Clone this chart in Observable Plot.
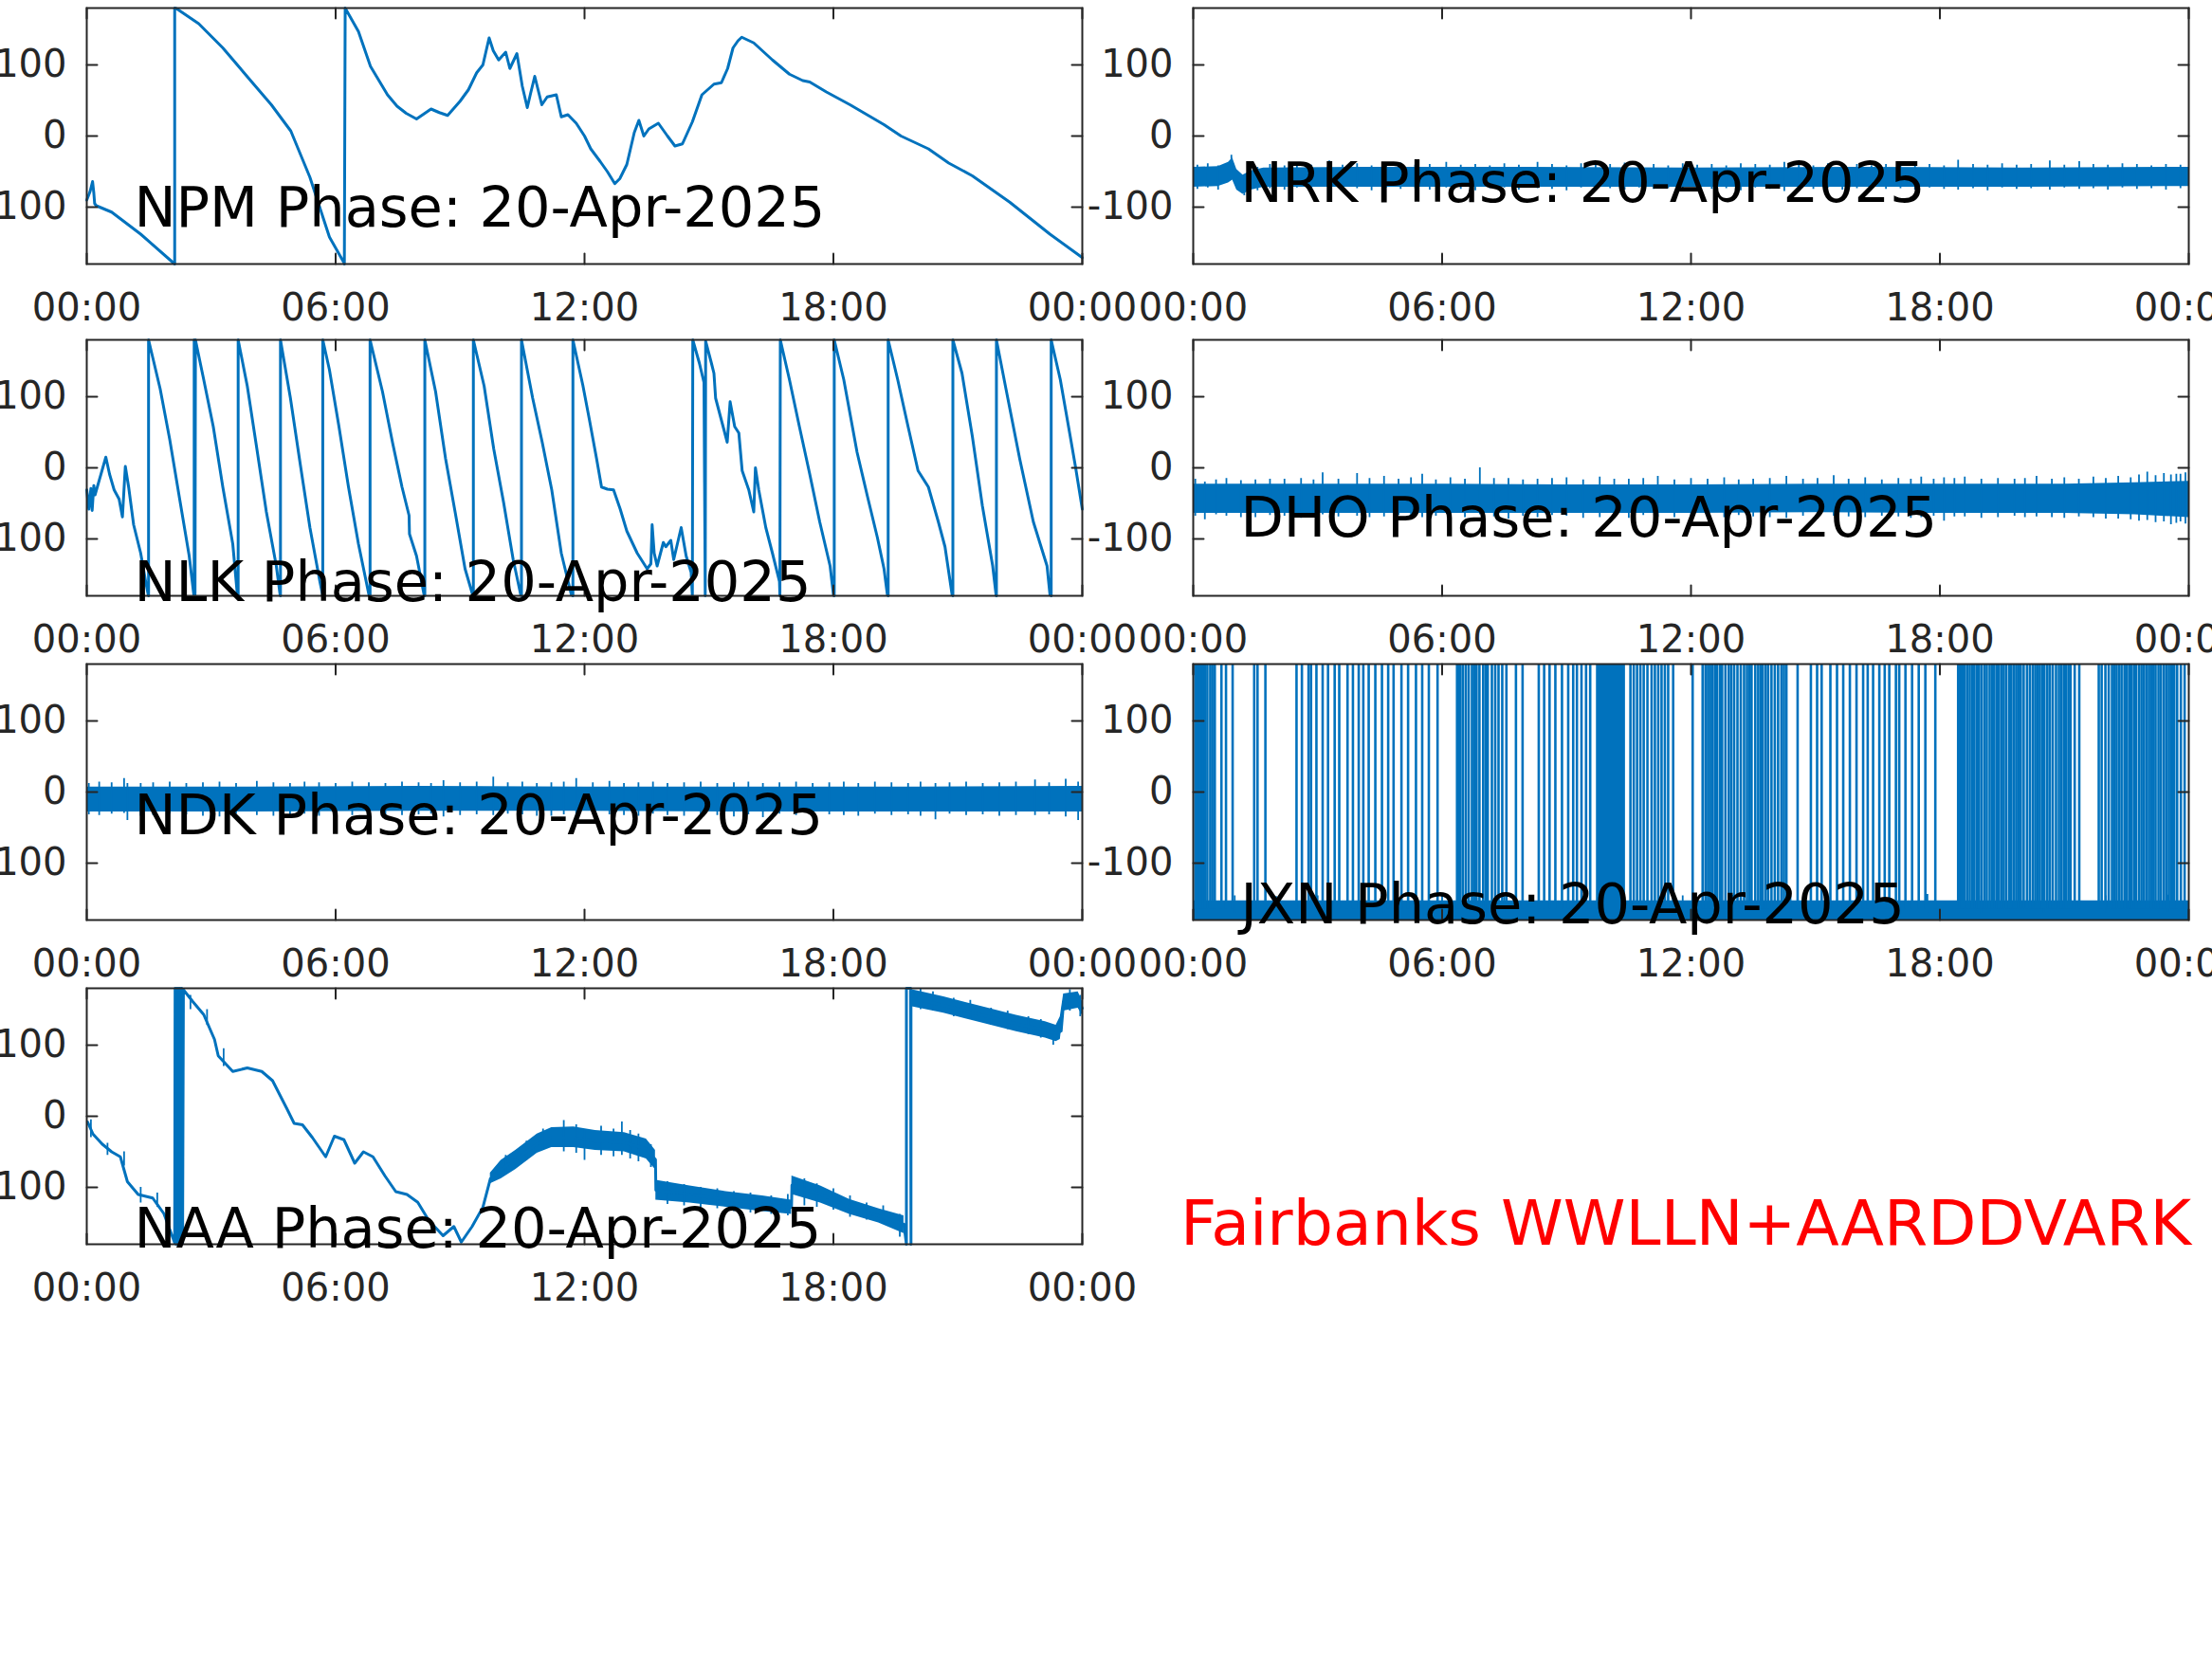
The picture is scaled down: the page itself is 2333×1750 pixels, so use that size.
<!DOCTYPE html>
<html><head><meta charset="utf-8">
<script src="https://cdn.jsdelivr.net/npm/d3@7"></script>
<script src="https://cdn.jsdelivr.net/npm/@observablehq/plot@0.6"></script>
<style>
html,body{margin:0;padding:0;background:#fff;}
#page{position:relative;width:2333px;height:1750px;overflow:hidden;background:#fff;font-family:"DejaVu Sans";}
.panel{position:absolute;}
</style></head><body><div id="page"></div>
<script>
// ---------- data ----------
const dateLabel = "20-Apr-2025";
const stations = ["NPM", "NRK", "NLK", "DHO", "NDK", "JXN", "NAA"];
const labelYs = [-127, -93, -187, -96, -59, -184, -184]; // baseline of each panel label (phase units)
const labelHour = 1.14;
const xTickHours = [0, 6, 12, 18, 24];
const xTickLabels = ["00:00", "06:00", "12:00", "18:00", "00:00"];
const yTickValues = [-100, 0, 100];
const yTickLabels = ["-100", "0", "100"];
const footerText = "Fairbanks WWLLN+AARDDVARK";

// [hour, phase]
const npmLine = [[0,-90],[0.08,-78],[0.14,-64],[0.17,-80],[0.19,-95],[0.23,-98],[0.6,-107],[1.3,-138],[2.12,-180],[2.12,180],[2.17,179],[2.7,158],[3.28,124],[3.98,76],[4.45,44],[4.92,7],[5.38,-58],[5.85,-142],[6.2,-178],[6.21,-180],[6.23,180],[6.55,147],[6.84,98],[7.25,58],[7.48,42],[7.7,32],[7.95,24],[8.1,30],[8.3,38],[8.5,33],[8.7,29],[9.0,49],[9.2,65],[9.4,89],[9.55,100],[9.7,138],[9.8,120],[9.93,107],[10.1,118],[10.2,95],[10.37,116],[10.5,70],[10.62,40],[10.7,60],[10.8,84],[10.97,44],[11.1,55],[11.32,58],[11.44,27],[11.6,30],[11.8,18],[12.0,0],[12.15,-18],[12.38,-36],[12.55,-50],[12.73,-67],[12.85,-60],[13.02,-40],[13.2,5],[13.31,22],[13.43,0],[13.55,10],[13.78,18],[14.0,0],[14.18,-14],[14.36,-11],[14.6,20],[14.83,58],[15.12,73],[15.3,75],[15.45,95],[15.58,124],[15.7,134],[15.79,139],[16.08,131],[16.53,107],[16.94,87],[17.26,78],[17.43,76],[17.83,62],[18.4,44],[19.22,16],[19.63,0],[20.29,-18],[20.78,-38],[21.35,-56],[22.25,-93],[23.22,-138],[24,-171]];

const nlkLine = [[0,-31],[0.05,-58],[0.1,-29],[0.13,-60],[0.17,-25],[0.2,-38],[0.46,15],[0.55,-9],[0.66,-31],[0.78,-44],[0.86,-69],[0.93,2],[1.01,-27],[1.13,-80],[1.3,-120],[1.42,-160],[1.48,-178],[1.49,-180],[1.49,180],[1.77,111],[2.0,40],[2.24,-44],[2.47,-124],[2.58,-178],[2.59,-180],[2.59,180],[2.6,172],[2.61,-180],[2.62,180],[2.82,124],[3.05,58],[3.28,-27],[3.52,-107],[3.63,-178],[3.65,-180],[3.65,180],[3.87,115],[4.1,27],[4.33,-62],[4.57,-138],[4.66,-178],[4.67,-180],[4.67,180],[4.91,98],[5.15,4],[5.38,-84],[5.62,-160],[5.69,-180],[5.69,180],[5.85,138],[6.08,58],[6.31,-27],[6.55,-107],[6.8,-178],[6.83,-180],[6.83,180],[7.13,107],[7.37,36],[7.6,-27],[7.77,-67],[7.78,-93],[7.95,-124],[8.13,-178],[8.15,-180],[8.15,180],[8.41,107],[8.65,13],[8.88,-62],[9.12,-142],[9.3,-178],[9.32,-180],[9.32,180],[9.58,115],[9.81,27],[10.05,-49],[10.28,-129],[10.46,-178],[10.48,-180],[10.48,180],[10.75,98],[10.98,36],[11.21,-31],[11.44,-120],[11.68,-178],[11.72,-180],[11.72,180],[11.96,116],[12.12,67],[12.29,13],[12.41,-27],[12.55,-30],[12.7,-31],[12.86,-58],[13.02,-89],[13.27,-120],[13.51,-142],[13.6,-135],[13.63,-80],[13.68,-120],[13.75,-138],[13.9,-105],[13.96,-111],[14.08,-102],[14.15,-129],[14.33,-84],[14.45,-124],[14.57,-147],[14.6,-180],[14.61,180],[14.77,147],[14.88,120],[14.91,-180],[14.92,178],[15.06,147],[15.12,133],[15.16,98],[15.3,67],[15.44,36],[15.51,93],[15.62,58],[15.72,49],[15.8,-4],[15.96,-31],[16.08,-62],[16.12,0],[16.2,-31],[16.37,-84],[16.53,-120],[16.7,-160],[16.71,-180],[16.72,180],[16.94,124],[17.18,58],[17.43,-9],[17.67,-76],[17.92,-138],[18.0,-178],[18.02,-180],[18.02,180],[18.25,124],[18.57,22],[18.82,-40],[19.06,-98],[19.22,-142],[19.3,-178],[19.32,-180],[19.32,180],[19.55,124],[19.8,58],[20.04,-4],[20.29,-27],[20.53,-76],[20.69,-111],[20.86,-178],[20.88,-180],[20.88,180],[21.1,133],[21.35,44],[21.59,-53],[21.84,-138],[21.92,-178],[21.93,-180],[21.93,180],[22.16,111],[22.49,13],[22.82,-76],[23.15,-138],[23.22,-178],[23.25,-180],[23.25,180],[23.47,124],[23.71,44],[23.84,0],[24,-58]];

const naaLine = [[0.02,-8],[0.15,-25],[0.37,-39],[0.6,-50],[0.81,-57],[0.98,-92],[1.24,-110],[1.59,-115],[1.86,-137],[2.12,-178],[2.13,180],[2.15,-180],[2.17,180],[2.19,-180],[2.21,180],[2.23,-180],[2.25,180],[2.27,-180],[2.29,180],[2.31,-178],[2.33,178],[2.56,161],[2.82,143],[3.08,108],[3.17,85],[3.52,63],[3.87,68],[4.22,63],[4.48,50],[4.83,10],[5.0,-10],[5.2,-12],[5.44,-30],[5.76,-57],[5.97,-28],[6.2,-33],[6.46,-66],[6.67,-50],[6.9,-57],[7.19,-84],[7.45,-106],[7.72,-110],[7.98,-121],[8.24,-146],[8.59,-168],[8.85,-155],[9.03,-177],[9.29,-155],[9.55,-128],[9.73,-88],[9.99,-75],[10.34,-61],[10.86,-39],[11.21,-30],[11.74,-30],[12.26,-35],[12.96,-37],[13.49,-46],[13.71,-61],[13.72,-104],[14.54,-110],[15.41,-117],[16.29,-123],[16.99,-128],[17.0,-97],[17.69,-110],[18.39,-128],[19.09,-140],[19.7,-152],[19.76,-180],[19.76,180],[19.86,180],[19.87,-180],[19.87,176],[19.96,165],[20.66,156],[21.53,143],[22.41,130],[23.11,121],[23.37,116],[23.49,120],[23.55,161],[23.9,165],[24,152]];

// [hour, low, high, segment]  noisy envelopes
const naaBand = [[9.73,-95,-80,1],[9.99,-88,-62,1],[10.34,-75,-48,1],[10.86,-52,-25,1],[11.21,-44,-16,1],[11.74,-44,-15,1],[12.26,-48,-20,1],[12.96,-50,-23,1],[13.49,-60,-32,1],[13.71,-75,-48,1],
  [13.72,-118,-90,2],[14.54,-122,-98,2],[15.41,-128,-106,2],[16.29,-134,-112,2],[16.99,-138,-118,2],[17.0,-110,-84,2],[17.69,-122,-98,2],[18.39,-138,-117,2],[19.09,-150,-130,2],[19.7,-165,-140,2],
  [19.9,154,178,3],[20.66,145,168,3],[21.53,132,155,3],[22.41,119,142,3],[23.11,110,133,3],[23.37,105,128,3],[23.47,108,140,3],[23.55,148,172,3],[23.9,152,175,3],[24,142,162,3]];
const naaSpikes = [[0.1,-30,-5],[0.5,-55,-38],[0.9,-70,-50],[1.3,-122,-100],[1.7,-128,-108],[2.5,150,170],[2.9,128,150],[3.3,70,95],[10.1,-80,-55],[10.6,-62,-35],[11.0,-48,-18],[11.5,-50,-6],[11.8,-52,-12],[12.0,-62,-20],[12.4,-55,-14],[12.7,-57,-18],[12.9,-55,-8],[13.1,-60,-20],[13.3,-64,-25],[13.6,-72,-40],
  [14.0,-124,-92],[14.4,-126,-96],[14.8,-128,-100],[15.2,-130,-102],[15.6,-134,-106],[16.0,-136,-108],[16.5,-138,-112],[16.9,-140,-110],[17.3,-126,-88],[17.6,-128,-95],[18.0,-132,-102],[18.4,-142,-112],[18.8,-146,-122],[19.2,-152,-126],[19.6,-170,-138],
  [20.1,150,179],[20.4,148,175],[20.9,140,166],[21.3,136,163],[21.8,128,152],[22.2,122,148],[22.7,115,140],[23.0,110,136],[23.3,100,128],[23.7,148,178],[23.95,140,170]];

const nrkBand = [[0,-72,-44],[0.6,-71,-43],[0.85,-66,-37],[0.95,-62,-31],[1.05,-76,-47],[1.2,-82,-55],[1.4,-76,-49],[1.7,-72,-45],[4,-72,-44],[8,-72,-44],[12,-72,-45],[16,-72,-44],[20,-72,-45],[24,-71,-44]];
const nrkSpikes = [[0.1,-75,-41],[0.35,-73,-39],[0.6,-76,-42],[0.92,-50,-27],[1.23,-84,-58],[1.55,-77,-44],[1.85,-74,-40],[2.2,-76,-42],[2.5,-73,-39],[2.85,-75,-41],[3.28,-72,-35],[3.6,-76,-41],[3.95,-74,-39],[4.3,-77,-42],[4.65,-73,-40],[5.0,-75,-38],[5.35,-74,-41],[5.7,-76,-40],[6.1,-73,-37],[6.45,-75,-41],[6.8,-77,-40],[7.15,-74,-42],[7.5,-73,-39],[7.85,-76,-41],[8.3,-74,-37],[8.65,-75,-40],[9.0,-77,-42],[9.35,-73,-39],[9.7,-75,-41],[10.05,-74,-40],[10.4,-76,-38],[10.75,-73,-41],[11.1,-75,-40],[11.45,-74,-42],[11.8,-76,-39],[12.15,-73,-41],[12.5,-75,-40],[12.85,-74,-42],[13.2,-77,-39],[13.55,-73,-40],[13.9,-75,-41],[14.25,-78,-37],[14.6,-74,-40],[14.95,-75,-42],[15.3,-73,-39],[15.65,-76,-41],[16.0,-74,-40],[16.35,-73,-42],[16.7,-75,-40],[17.05,-74,-39],[17.4,-76,-41],[17.75,-73,-40],[18.1,-75,-42],[18.44,-76,-34],[18.8,-74,-40],[19.15,-77,-41],[19.5,-73,-39],[19.85,-75,-41],[20.2,-74,-40],[20.65,-76,-35],[21.0,-73,-41],[21.36,-75,-36],[21.7,-74,-40],[22.05,-76,-41],[22.4,-73,-39],[22.75,-75,-40],[23.1,-74,-42],[23.45,-76,-40],[23.8,-74,-41]];

const dhoBand = [[0,-64,-23],[3,-64,-23],[6,-64,-23],[9,-64,-24],[12,-64,-24],[15,-63,-23],[18,-64,-23],[21,-64,-23],[22.7,-66,-21],[24,-70,-19]];
const dhoSpikes = [[0.05,-68,-16],[0.28,-73,-20],[0.55,-66,-17],[0.8,-68,-15],[1.15,-70,-18],[1.5,-70,-17],[1.85,-67,-16],[2.2,-68,-16],[2.6,-71,-15],[2.9,-66,-17],[3.12,-66,-7],[3.5,-69,-16],[3.95,-68,-8],[4.25,-70,-15],[4.6,-69,-12],[4.95,-67,-16],[5.25,-71,-14],[5.52,-70,-9],[5.85,-68,-17],[6.2,-68,-14],[6.55,-70,-16],[6.91,-66,0],[7.25,-69,-15],[7.6,-72,-15],[7.95,-68,-17],[8.3,-70,-16],[8.65,-67,-15],[9.0,-68,-14],[9.4,-71,-17],[9.8,-70,-13],[10.15,-68,-16],[10.5,-71,-16],[10.85,-67,-15],[11.2,-69,-12],[11.6,-70,-17],[12.0,-68,-15],[12.4,-71,-16],[12.8,-70,-14],[13.15,-67,-17],[13.5,-69,-16],[13.9,-70,-15],[14.3,-71,-12],[14.7,-68,-16],[15.05,-70,-15],[15.44,-68,-11],[15.8,-69,-16],[16.2,-70,-14],[16.6,-68,-17],[17.0,-69,-15],[17.3,-71,-16],[17.55,-70,-13],[17.85,-68,-16],[18.1,-75,-14],[18.35,-69,-15],[18.6,-69,-13],[19.0,-71,-16],[19.4,-70,-15],[19.8,-68,-16],[20.05,-70,-15],[20.33,-69,-12],[20.7,-70,-16],[21.0,-71,-14],[21.35,-69,-16],[21.7,-70,-13],[22.0,-72,-15],[22.3,-72,-12],[22.6,-73,-14],[22.8,-75,-10],[23.0,-74,-6],[23.2,-77,-11],[23.4,-76,-8],[23.57,-80,-10],[23.7,-78,-9],[23.8,-76,-9],[23.92,-79,-7]];

const ndkBand = [[0,-28,7],[4,-28,7],[8,-27,8],[12,-27,7],[16,-28,7],[20,-28,7],[24,-28,8]];
const ndkSpikes = [[0.05,-32,12],[0.3,-33,14],[0.6,-31,13],[0.9,-30,19],[0.98,-40,12],[1.3,-34,12],[1.6,-33,13],[2.0,-31,14],[2.4,-32,12],[2.8,-34,13],[3.2,-35,14],[3.6,-31,12],[4.1,-33,15],[4.5,-34,13],[4.9,-32,12],[5.25,-31,14],[5.6,-34,13],[6.0,-32,12],[6.4,-33,14],[6.8,-31,13],[7.2,-38,12],[7.6,-33,14],[8.0,-32,13],[8.3,-31,12],[8.6,-35,16],[9.0,-33,13],[9.4,-32,14],[9.8,-33,21],[10.15,-31,13],[10.5,-32,14],[10.85,-34,12],[11.2,-34,13],[11.5,-32,14],[11.8,-33,19],[12.2,-31,13],[12.6,-32,15],[12.95,-33,12],[13.3,-34,13],[13.65,-31,14],[14.0,-33,12],[14.4,-34,13],[14.8,-32,14],[15.2,-33,12],[15.6,-35,13],[15.95,-32,14],[16.3,-36,12],[16.7,-31,13],[17.1,-33,14],[17.5,-34,12],[17.9,-32,13],[18.25,-33,14],[18.6,-34,12],[19.0,-31,14],[19.4,-33,13],[19.8,-32,12],[20.1,-34,14],[20.46,-39,12],[20.8,-31,13],[21.2,-33,14],[21.6,-32,12],[22.0,-34,13],[22.4,-33,14],[22.86,-33,17],[23.2,-32,13],[23.6,-35,18],[23.9,-40,14]];

const jxnBand = [[0,-180,-153],[24,-180,-153]];
const jxnSpikes = [[1.0,-170,-146],[2.0,-170,-147],[3.0,-170,-146],[4.6,-170,-148],[6.0,-170,-146],[7.5,-170,-147],[11.8,-170,-146],[13.0,-170,-145],[14.4,-170,-147],[16.0,-170,-146],[17.7,-170,-144],[19.0,-170,-146],[20.5,-170,-145],[22.0,-170,-146],[23.5,-170,-145]];
const jxnWrapHours = [0.05,0.09,0.13,0.17,0.2,0.24,0.28,0.34,0.41,0.46,0.52,0.68,0.79,0.95,1.47,1.55,1.74,2.49,2.62,2.78,2.84,2.97,3.12,3.25,3.41,3.52,3.72,3.85,3.99,4.1,4.23,4.39,4.55,4.7,4.83,5.02,5.18,5.37,5.52,5.68,5.89,6.36,6.4,6.44,6.5,6.57,6.64,6.72,6.77,6.83,6.9,6.99,7.05,7.1,7.2,7.28,7.36,7.45,7.55,7.78,7.94,8.33,8.46,8.59,8.73,8.89,9.04,9.16,9.25,9.36,9.47,9.57,10.54,10.62,10.7,10.78,10.86,10.95,11.05,11.13,11.21,11.29,11.37,11.45,11.57,12.04,12.28,12.35,12.41,12.46,12.52,12.58,12.63,12.7,12.75,12.83,12.91,12.97,13.04,13.12,13.2,13.28,13.35,13.41,13.46,13.55,13.62,13.68,13.73,13.8,13.86,13.94,14.02,14.1,14.18,14.24,14.3,14.57,14.89,15.04,15.15,15.36,15.52,15.67,15.83,15.99,16.15,16.26,16.39,16.54,16.67,16.78,16.94,17.02,17.17,17.33,17.49,17.65,17.89,18.44,18.48,18.52,18.56,18.6,18.66,18.72,18.78,18.83,18.89,18.94,19.0,19.07,19.13,19.2,19.26,19.31,19.37,19.42,19.48,19.54,19.6,19.67,19.72,19.78,19.84,19.89,19.95,20.02,20.1,20.17,20.24,20.3,20.36,20.41,20.47,20.52,20.59,20.65,20.72,20.8,20.87,20.93,20.99,21.04,21.1,21.15,21.25,21.36,21.83,21.9,21.99,22.07,22.15,22.2,22.26,22.32,22.38,22.45,22.51,22.57,22.62,22.68,22.73,22.8,22.86,22.92,22.98,23.04,23.09,23.15,23.2,23.27,23.33,23.4,23.46,23.52,23.57,23.61,23.65,23.72,23.81,23.9];
const jxnBlocks = [[9.72, 10.42]];

// ---------- drawing ----------
const BLUE = "#0072BD";
const AXIS = "#262626";
const FRAME_W = 1050, FRAME_H = 270;
const ML = 110, MR = 70, MT = 10, MB = 80;
const colLeft = [91, 1258];
const rowTop = [8, 358, 700, 1042];

const tickShape = {draw(ctx, l) { ctx.moveTo(0, 0); ctx.lineTo(0, -l); }};

function panel(i, col, row, parts) {
  const name = stations[i];
  const marks = [];
  if (parts.band) marks.push(Plot.areaY(parts.band, {x: d => d[0], y1: d => d[1], y2: d => d[2], z: d => d[3] ?? 0, fill: BLUE, curve: "linear"}));
  if (parts.blocks) marks.push(Plot.rect(parts.blocks, {x1: d => d[0], x2: d => d[1], y1: -172, y2: 180, fill: BLUE}));
  if (parts.spikes) marks.push(Plot.ruleX(parts.spikes, {x: d => d[0], y1: d => d[1], y2: d => d[2], stroke: BLUE, strokeWidth: 1.8}));
  if (parts.wraps) marks.push(Plot.ruleX(parts.wraps, {x: d => d, y1: -165, y2: 180, stroke: BLUE, strokeWidth: 2.6}));
  if (parts.line) marks.push(Plot.line(parts.line, {x: d => d[0], y: d => d[1], stroke: BLUE, strokeWidth: parts.lw ?? 3, strokeLinejoin: "round"}));
  marks.push(
    Plot.frame({stroke: AXIS, strokeWidth: 2}),
    Plot.vector(xTickHours, {x: d => d, y: -180, length: 11, rotate: 0, anchor: "start", shape: tickShape, stroke: AXIS, strokeWidth: 2}),
    Plot.vector(xTickHours, {x: d => d, y: 180, length: 11, rotate: 180, anchor: "start", shape: tickShape, stroke: AXIS, strokeWidth: 2}),
    Plot.vector(yTickValues, {x: 0, y: d => d, length: 11, rotate: 90, anchor: "start", shape: tickShape, stroke: AXIS, strokeWidth: 2}),
    Plot.vector(yTickValues, {x: 24, y: d => d, length: 11, rotate: -90, anchor: "start", shape: tickShape, stroke: AXIS, strokeWidth: 2}),
    Plot.axisX({ticks: xTickHours, tickSize: 0, tickPadding: 31, label: null, tickFormat: d => xTickLabels[xTickHours.indexOf(d)], fill: AXIS}),
    Plot.axisY({ticks: yTickValues, tickSize: 0, tickPadding: 21, label: null, tickFormat: d => yTickLabels[yTickValues.indexOf(d)], fill: AXIS}),
    Plot.text([name], {x: labelHour, y: labelYs[i], text: d => `${d} Phase: ${dateLabel}`, textAnchor: "start", lineAnchor: "bottom", fontSize: 59, fill: "black", fontFamily: "DejaVu Sans"})
  );
  const svg = Plot.plot({
    width: ML + FRAME_W + MR, height: MT + FRAME_H + MB,
    marginLeft: ML, marginRight: MR, marginTop: MT, marginBottom: MB,
    x: {domain: [0, 24]}, y: {domain: [-180, 180]},
    style: {fontFamily: "DejaVu Sans", fontSize: "40px", color: AXIS, background: "transparent", overflow: "visible", maxWidth: "none"},
    marks
  });
  const div = document.createElement("div");
  div.className = "panel";
  div.style.left = (colLeft[col] - ML) + "px";
  div.style.top = (rowTop[row] - MT) + "px";
  div.style.width = (ML + FRAME_W + MR) + "px";
  div.appendChild(svg);
  document.getElementById("page").appendChild(div);
}

panel(0, 0, 0, {line: npmLine});
panel(1, 1, 0, {band: nrkBand, spikes: nrkSpikes});
panel(2, 0, 1, {line: nlkLine});
panel(3, 1, 1, {band: dhoBand, spikes: dhoSpikes});
panel(4, 0, 2, {band: ndkBand, spikes: ndkSpikes});
panel(5, 1, 2, {band: jxnBand, spikes: jxnSpikes, wraps: jxnWrapHours, blocks: jxnBlocks});
panel(6, 0, 3, {line: naaLine, band: naaBand, spikes: naaSpikes, lw: 3});

// footer annotation
const over = d3.select("#page").append("svg")
  .attr("width", 2333).attr("height", 1750)
  .style("position", "absolute").style("left", 0).style("top", 0).style("pointer-events", "none");
over.append("text").attr("x", 1245).attr("y", 1313)
  .attr("font-family", "DejaVu Sans").attr("font-size", 66.5).attr("fill", "#FF0000")
  .text(footerText);
</script></body></html>
